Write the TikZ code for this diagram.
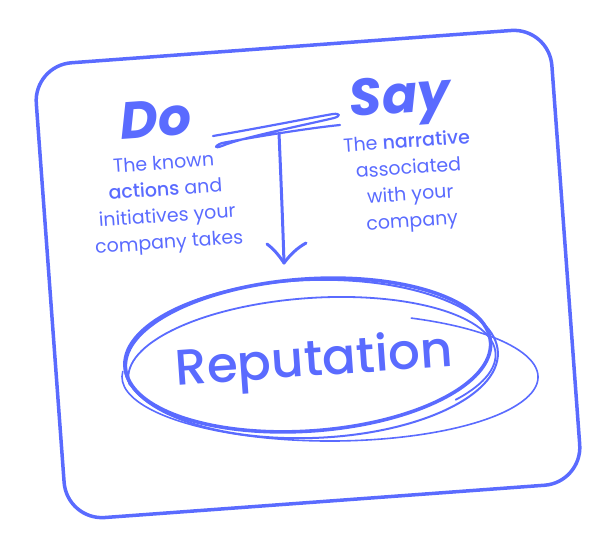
\documentclass[tikz,border=0pt]{standalone}
\usepackage{fontspec}
\setmainfont{Poppins}
\newfontfamily\popmed{Poppins Medium}
\definecolor{brand}{HTML}{5A6BFF}
\begin{document}
\begin{tikzpicture}[x=1pt,y=-1pt, line cap=round, line join=round,
  frame/.style={draw=brand, line width=3.5pt, rounded corners=38pt},
  ink/.style={draw=brand, line width=#1},
  title/.style={text=brand, inner sep=0pt, anchor=base, rotate=4,
    font=\bfseries\itshape\fontsize{52}{52}\selectfont},
  body/.style={text=brand, inner sep=0pt, anchor=north, rotate=4, align=center,
    font=\fontsize{19}{26.5}\selectfont},
  big/.style={text=brand, inner sep=0pt, anchor=base, rotate=4,
    font=\popmed\fontsize{50}{50}\selectfont}]
\useasboundingbox (0,0) rectangle (603,558);
% frame
\draw[frame, rotate around={4.2:(308,274)}] (49.5,46) rectangle (566.5,502);
% titles
\node[title] (do) at (157,137) {Do};
\node[title] (say) at (401,113) {Say};
\node[body] (dotext) at (163,155) {The known\\{\popmed actions} and\\initiatives your\\company takes};
\node[body] (saytext) at (406,133) {The {\popmed narrative}\\associated\\with your\\company};
% result
\node[big] (rep) at (315,376) {Reputation};
% scribbled ellipses
\draw[ink=3.6pt, rotate around={4:(308,355)}] (308,355) ellipse [x radius=183, y radius=76];
\draw[ink=2pt, rotate around={2:(311,359)}] (311,359) ellipse [x radius=187, y radius=79];
\draw[ink=1.8pt, rotate around={4:(312,366)}] (312,366) ++(-185:184 and 68) arc[start angle=-185, end angle=40, x radius=184, y radius=68];
\draw[ink=1.6pt] (330,377) ++(-67:208 and 64) arc[start angle=-67, end angle=185, x radius=208, y radius=64];
% T-bar and arrow
\coordinate (barL) at (213,136);
\coordinate (barR) at (340,125);
\coordinate (stem) at (279,133);
\coordinate (tip) at (284,263);
\draw[ink=2.2pt] (barL) .. controls (260,128) and (315,117) .. (333,114) .. controls (340,113) and (341,116) .. (334,118) .. controls (300,126) and (240,138) .. (222,146) .. controls (214,149) and (214,146) .. (222,143) .. controls (260,136) and (310,128) .. (barR);
\draw[ink=3pt] (stem) .. controls (281,180) and (283,230) .. (tip);
\draw[ink=3pt] (267,244) .. controls (275,250) and (280,257) .. (tip) .. controls (290,255) and (297,248) .. (306,243);
\end{tikzpicture}
\end{document}
